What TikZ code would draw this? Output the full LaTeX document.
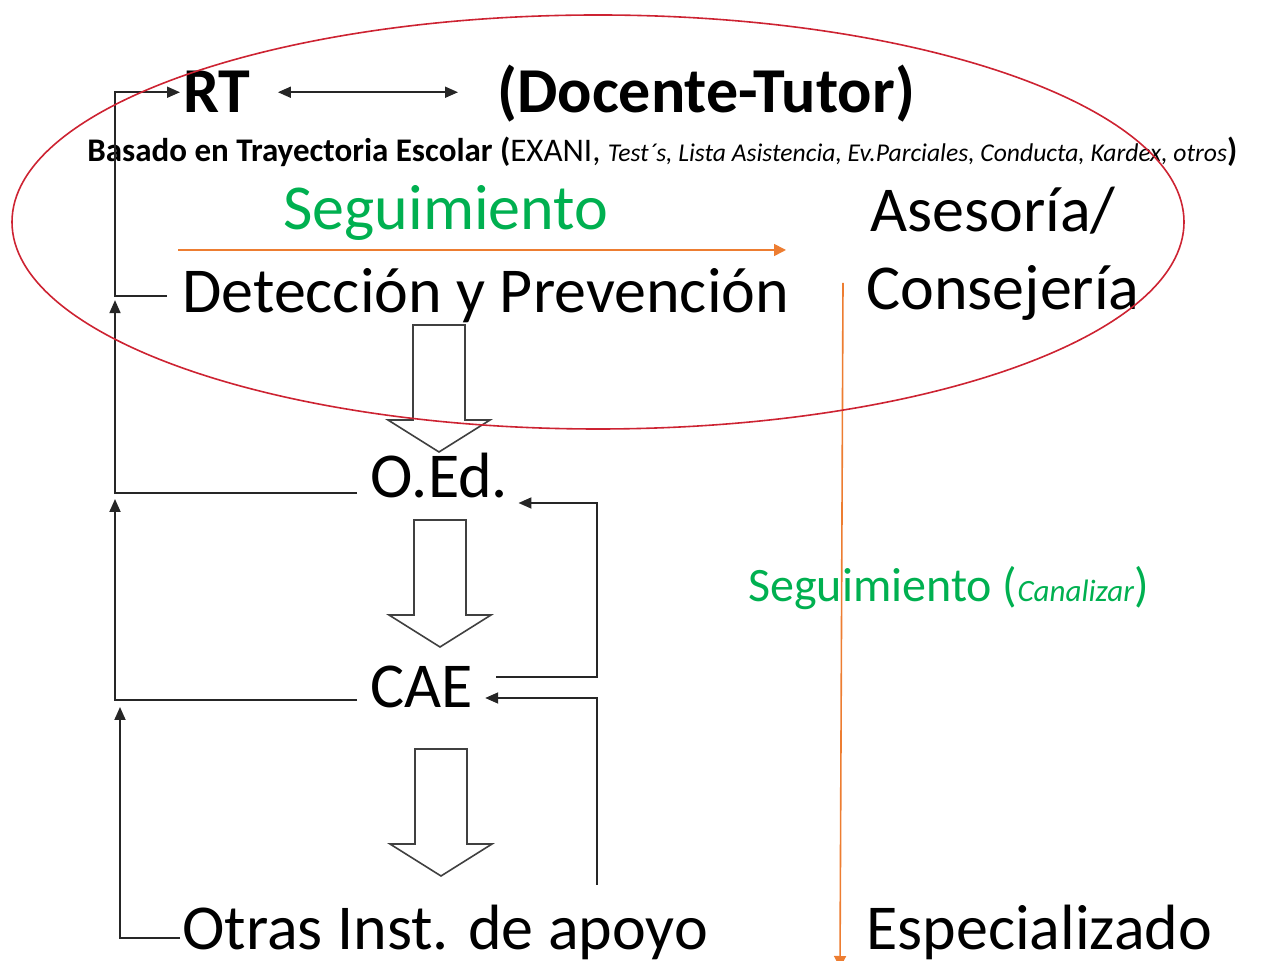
\documentclass[tikz,border=0pt]{standalone}
\usepackage{fontspec}
\setmainfont{Carlito}
\usetikzlibrary{arrows.meta}

\definecolor{ovalred}{RGB}{205,35,50}
\definecolor{segorange}{RGB}{237,125,49}
\definecolor{seggreen}{RGB}{0,176,80}

\tikzset{
  bigtext/.style={font=\fontsize{32}{38}\selectfont},
  headtext/.style={font=\bfseries\fontsize{32}{38}\selectfont},
  notetext/.style={font=\fontsize{16.5}{20}\selectfont},
  midtext/.style={font=\fontsize{24}{29}\selectfont},
  link/.style={draw=black!85,line width=0.9pt},
  arr/.style={-{Triangle[length=6.5pt,width=5.5pt]}},
  segline/.style={draw=segorange,line width=0.8pt,-{Triangle[length=6pt,width=6pt]}},
  oval/.style={draw=ovalred,line width=0.8pt},
  blockdown/.pic={
    \draw[draw=black!75,line width=0.8pt,fill=white]
      (-26,0) -- (26,0) -- (26,95) -- (51,95) -- (0,127) -- (-51,95) -- (-26,95) -- cycle;
  }
}

\begin{document}
\begin{tikzpicture}[x=0.5pt,y=-0.5pt]

        \useasboundingbox (0,0) rectangle (1264,961);

        \begin{scope}[every node/.style={inner sep=0pt,anchor=base west}]
          \node[headtext] (rt)  at (183,113)  {RT};
          \node[headtext] (tutor)  at (497,113)  {(Docente-Tutor)};
          \node[notetext] (base)  at (87,162)  {\bfseries Basado en Trayectoria Escolar (\mdseries EXANI, {\itshape\fontsize{12.8}{15}\selectfont Test´s, Lista Asistencia, Ev.Parciales, Conducta, Kardex, otros}\bfseries)};
          \node[bigtext,text=seggreen] (seg)  at (283,230)  {Seguimiento};
          \node[bigtext] (det)  at (182,313)  {Detección y Prevención};
          \node[bigtext] (ase)  at (870,232)  {Asesoría/};
          \node[bigtext] (con)  at (866,310)  {Consejería};
          \node[bigtext] (oed)  at (370,498)  {O.Ed.};
          \node[bigtext] (cae)  at (370,708)  {CAE};
          \node[bigtext] (otras)  at (182,950)  {Otras Inst. de apoyo};
          \node[bigtext] (esp)  at (866,950)  {Especializado};
          \node[midtext,text=seggreen] (canal)  at (748,602)  {Seguimiento ({\itshape\fontsize{15.5}{18}\selectfont Canalizar})};
        \end{scope}

        \coordinate (rail)  at (115,0);
        \coordinate (rail2)  at (120,0);
        \coordinate (rrail)  at (597,0);
        \coordinate (fb)  at (597,885);
        \coordinate (s1)  at (178,250);
        \coordinate (s2)  at (786,250);
        \coordinate (c1)  at (843,283);
        \coordinate (c2)  at (840,968);

        \coordinate (detL)  at ([xshift=-7.5pt]det.west);
        \coordinate (oedL)  at ([shift={(-6.5pt,2.5pt)}]oed.base west);
        \coordinate (caeL)  at ([shift={(-6.5pt,4pt)}]cae.base west);
        \coordinate (otrL)  at ([shift={(-1pt,6pt)}]otras.base west);
        \coordinate (oedR)  at ([shift={(5pt,-2.5pt)}]oed.base east);
        \coordinate (caeR)  at ([shift={(6pt,5pt)}]cae.base east);
        \coordinate (caeO)  at ([shift={(11.5pt,15.5pt)}]cae.base east);
        \coordinate (rtR)  at ([xshift=13.5pt]rt.east);
        \coordinate (tutorL)  at ([xshift=-19.5pt]tutor.west);

        % feedback lines
        \begin{scope}[every path/.style={link}]
          \draw[arr,shorten >=1.5pt] (detL) -- (detL -| rail) |- (rt.west);
          \draw[arr,shorten >=2pt] (oedL) -- (oedL -| rail) -- (detL -| rail);
          \draw[arr,shorten >=3pt] (caeL) -- (caeL -| rail) -- (oedL -| rail);
          \draw[arr,shorten >=3.5pt] (otrL) -- (otrL -| rail2) -- (caeL -| rail2);
          \draw[arr] (caeO) -- (caeO -| rrail) |- (oedR);
          \draw[arr] (fb) |- (caeR);
          \draw[{Triangle[length=6.5pt,width=5.5pt]}-{Triangle[length=6.5pt,width=5.5pt]}] (rtR) -- (rtR -| tutorL);
        \end{scope}

        \pic at (439,325) {blockdown};
        \pic at (440,520) {blockdown};
        \pic at (441,749) {blockdown};

        \draw[segline] (s1) -- (s2);
        \draw[segline] (c1) -- (c2);

        \draw[oval] (598,222) ellipse [x radius=586,y radius=207];

      \end{tikzpicture}
\end{document}
